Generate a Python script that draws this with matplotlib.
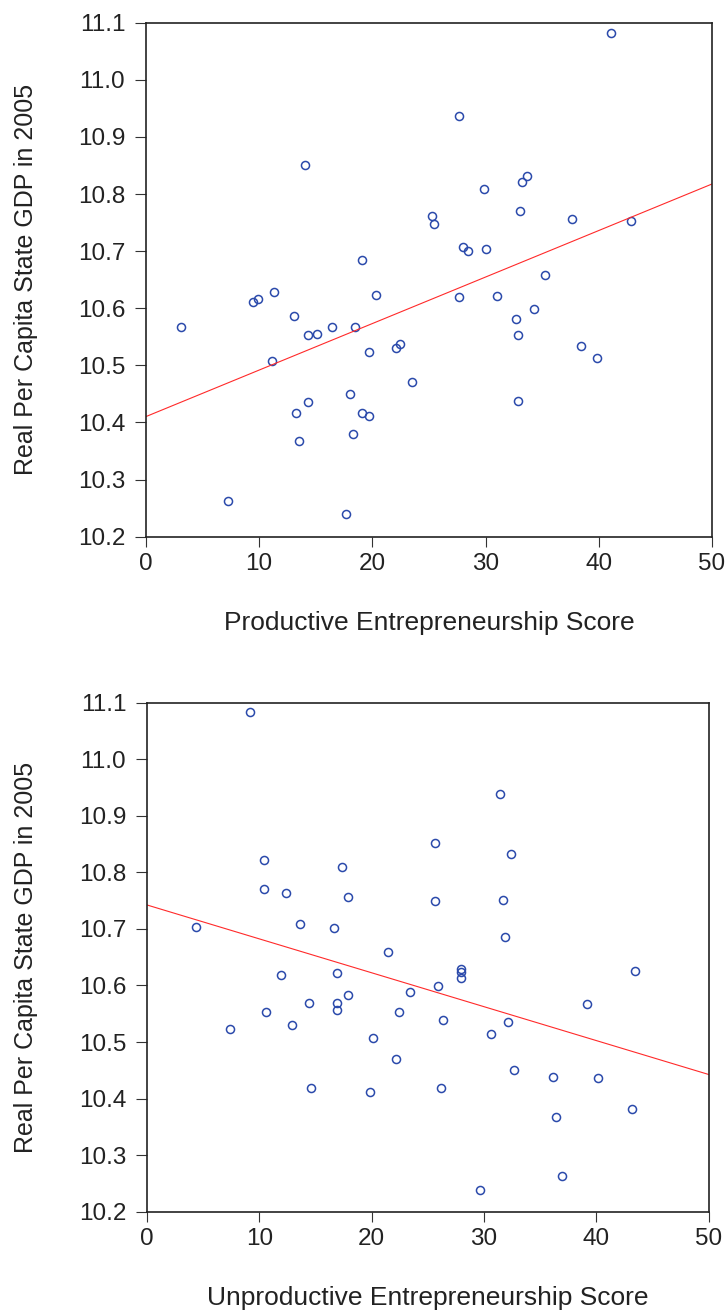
import numpy as np
import matplotlib.pyplot as plt

plt.rcParams["font.family"] = ["Liberation Sans", "DejaVu Sans"]

# Real per capita state GDP (log) vs productive entrepreneurship score
prod_score = [14.07, 19.05, 25.27, 25.44, 41.05, 27.68, 33.66, 33.25, 29.86, 33.04,
              37.63, 42.84, 28.03, 28.47, 30.06, 35.25, 3.06, 9.45, 9.86, 11.28,
              13.07, 14.28, 15.08, 16.46, 18.49, 20.29, 19.67, 22.05, 22.47, 23.47,
              11.10, 18.05, 14.28, 13.25, 19.05, 19.67, 13.49, 18.26, 7.27, 17.67,
              27.68, 31.04, 34.28, 32.66, 32.86, 38.46, 39.87, 32.86]
prod_gdp = [10.851, 10.684, 10.762, 10.748, 11.082, 10.937, 10.832, 10.821, 10.808, 10.771,
            10.756, 10.752, 10.707, 10.700, 10.704, 10.658, 10.567, 10.611, 10.617, 10.628,
            10.587, 10.553, 10.555, 10.568, 10.568, 10.624, 10.523, 10.530, 10.538, 10.470,
            10.508, 10.450, 10.436, 10.417, 10.417, 10.411, 10.367, 10.380, 10.263, 10.239,
            10.620, 10.622, 10.599, 10.582, 10.553, 10.534, 10.513, 10.438]

# same states vs unproductive entrepreneurship score
unprod_score = [9.15, 25.62, 10.39, 17.36, 10.39, 12.41, 17.90, 25.62, 4.40, 13.62,
                16.69, 21.41, 31.41, 32.41, 31.67, 31.91, 11.91, 16.92, 25.86, 23.42,
                14.40, 16.92, 16.92, 17.90, 10.63, 22.41, 12.91, 7.43, 20.16, 22.15,
                14.64, 19.89, 26.15, 27.91, 27.91, 27.91, 43.40, 39.13, 26.39, 32.12,
                30.63, 32.65, 36.15, 40.13, 36.37, 43.13, 36.90, 29.65]
unprod_gdp = [11.083, 10.852, 10.821, 10.809, 10.771, 10.764, 10.757, 10.749, 10.704, 10.708,
              10.702, 10.659, 10.938, 10.833, 10.752, 10.685, 10.619, 10.622, 10.599, 10.588,
              10.569, 10.569, 10.556, 10.583, 10.554, 10.553, 10.530, 10.523, 10.508, 10.470,
              10.418, 10.411, 10.418, 10.629, 10.623, 10.613, 10.625, 10.567, 10.539, 10.536,
              10.514, 10.451, 10.438, 10.437, 10.368, 10.381, 10.263, 10.239]

x_ticks = [0, 10, 20, 30, 40, 50]
y_ticks = [10.2, 10.3, 10.4, 10.5, 10.6, 10.7, 10.8, 10.9, 11.0, 11.1]

fig = plt.figure(figsize=(7.28, 13.10), dpi=100)
ax1 = fig.add_axes([0.2005, 0.5903, 0.7775, 0.3924])
ax2 = fig.add_axes([0.2019, 0.0750, 0.7716, 0.3886])

panels = [(ax1, prod_score, prod_gdp, "Productive Entrepreneurship Score", -0.191),
          (ax2, unprod_score, unprod_gdp, "Unproductive Entrepreneurship Score", -0.194)]

for ax, xs, ys, xlab, ylab_x in panels:
    xs = np.array(xs)
    ys = np.array(ys)
    ax.plot(xs, ys, "o", mfc="none", mec="#2b4aab", ms=5.8, mew=1.1)
    # OLS fit line
    b, a = np.polyfit(xs, ys, 1)
    xl = np.array([0, 50])
    ax.plot(xl, a + b * xl, color="#ff2a2a", lw=0.8)
    ax.set_xlim(0, 50)
    ax.set_ylim(10.2, 11.1)
    ax.set_xticks(x_ticks)
    ax.set_yticks(y_ticks)
    ax.set_yticklabels([f"{v:.1f}" for v in y_ticks])
    ax.tick_params(direction="out", length=7.5, width=0.8, color="#333333",
                   labelsize=17.5, labelcolor="#222222", pad=4)
    ax.tick_params(axis="y", length=8, pad=7)
    for s in ax.spines.values():
        s.set_color("#222222")
        s.set_linewidth(1.2)
    ax.set_xlabel(xlab, fontsize=19, color="#222222", labelpad=26)
    ax.set_ylabel("Real Per Capita State GDP in 2005", fontsize=18, color="#222222")
    ax.yaxis.set_label_coords(ylab_x, 0.5)

fig.savefig("out.png", dpi=100)
